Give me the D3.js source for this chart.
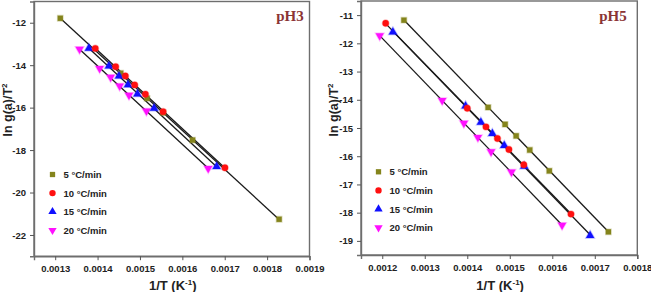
<!DOCTYPE html>
<html><head><meta charset="utf-8">
<script src="https://cdnjs.cloudflare.com/ajax/libs/d3/7.8.5/d3.min.js"></script>
<style>body{margin:0;background:#fff}svg{display:block}</style>
</head><body>
<script>
// ---- data ----
const seriesNames = ["5 °C/min", "10 °C/min", "15 °C/min", "20 °C/min"];
const seriesColors = ["#84841c", "#ff1010", "#1010ff", "#ff10ff"];

const ph3_5  = [[0.001312,-11.79],[0.0014545,-14.38],[0.0015167,-15.56],[0.0015546,-16.24],[0.0016241,-17.53],[0.0018283,-21.26]];
const ph3_10 = [[0.0013946,-13.21],[0.0014427,-14.07],[0.0014656,-14.51],[0.0014876,-14.93],[0.0015129,-15.37],[0.0015546,-16.19],[0.0017005,-18.83]];
const ph3_15 = [[0.0013795,-13.21],[0.0014268,-14.04],[0.0014505,-14.51],[0.0014718,-14.93],[0.001494,-15.36],[0.0015333,-16.03],[0.0016809,-18.78]];
const ph3_20 = [[0.0013575,-13.25],[0.0014048,-14.15],[0.0014308,-14.57],[0.0014521,-14.98],[0.0014741,-15.41],[0.0015153,-16.16],[0.001661,-18.86]];

const ph5_5  = [[0.001251,-11.18],[0.001449,-14.27],[0.001489,-14.87],[0.001515,-15.28],[0.001547,-15.78],[0.001593,-16.52],[0.001732,-18.68]];
const ph5_10 = [[0.001208,-11.29],[0.0014,-14.3],[0.001444,-14.96],[0.001471,-15.37],[0.001498,-15.76],[0.001533,-16.3],[0.001644,-18.05]];
const ph5_15 = [[0.001225,-11.6],[0.001396,-14.22],[0.001432,-14.8],[0.001459,-15.2],[0.001487,-15.62],[0.001534,-16.36],[0.001689,-18.81]];
const ph5_20 = [[0.001194,-11.73],[0.001341,-14.02],[0.001392,-14.83],[0.001425,-15.33],[0.001456,-15.84],[0.001504,-16.56],[0.001623,-18.44]];

const ph3XTicks = [0.0013,0.0014,0.0015,0.0016,0.0017,0.0018,0.0019];
const ph3YTicks = [-12,-14,-16,-18,-20,-22];
const ph5XTicks = [0.0012,0.0013,0.0014,0.0015,0.0016,0.0017,0.0018];
const ph5YTicks = [-11,-12,-13,-14,-15,-16,-17,-18,-19];

const ph3XDomain = [0.00125, 0.0019];
const ph3YDomain = [-23, -11];
const ph5XDomain = [0.00115, 0.0018];
const ph5YDomain = [-19.5, -10.5];

const panelTitles = ["pH3", "pH5"];

// ---- drawing ----
const W = 651, H = 292;
const svg = d3.select("body").append("svg").attr("width", W).attr("height", H);

const panels = [
  {title: panelTitles[0], series: [ph3_5, ph3_10, ph3_15, ph3_20], xd: ph3XDomain, yd: ph3YDomain,
   xt: ph3XTicks, yt: ph3YTicks, left: 34, right: 309.5, top: 1.5, bottom: 256.2,
   legX: 52.5, legY: 174.5, legDy: 18.6, ylabX: 12, titleX: 290},
  {title: panelTitles[1], series: [ph5_5, ph5_10, ph5_15, ph5_20], xd: ph5XDomain, yd: ph5YDomain,
   xt: ph5XTicks, yt: ph5YTicks, left: 361, right: 637.3, top: 1, bottom: 255,
   legX: 378.5, legY: 171.8, legDy: 18.6, ylabX: 338, titleX: 613}
];

const symbols = [d3.symbolSquare, d3.symbolCircle, d3.symbolTriangle, d3.symbolTriangle];
const symSizes = [28, 32, 30, 30];
const symRot = [0, 0, 0, 180];

function fit(pts) {
  const mx = d3.mean(pts, d => d[0]), my = d3.mean(pts, d => d[1]);
  let sxy = 0, sxx = 0;
  pts.forEach(d => { sxy += (d[0]-mx)*(d[1]-my); sxx += (d[0]-mx)*(d[0]-mx); });
  const b = sxy / sxx, a = my - b*mx;
  const x0 = d3.min(pts, d => d[0]), x1 = d3.max(pts, d => d[0]);
  return [[x0, a + b*x0], [x1, a + b*x1]];
}

panels.forEach(p => {
  const x = d3.scaleLinear().domain(p.xd).range([p.left, p.right]);
  const y = d3.scaleLinear().domain(p.yd).range([p.bottom, p.top]);
  const g = svg.append("g");

  g.append("rect").attr("x", p.left).attr("y", p.top)
    .attr("width", p.right - p.left).attr("height", p.bottom - p.top)
    .attr("fill", "none").attr("stroke", "#6e6e6e").attr("stroke-width", 1.4);

  const xa = g.append("g").attr("transform", `translate(0,${p.bottom})`)
    .call(d3.axisBottom(x).tickValues(p.xt).tickFormat(d3.format(".4f")).tickSize(4).tickPadding(5));
  const ya = g.append("g").attr("transform", `translate(${p.left},0)`)
    .call(d3.axisLeft(y).tickValues(p.yt).tickFormat(d => d3.format("d")(d).replace("−","-")).tickSize(4).tickPadding(4));
  [xa, ya].forEach(a => {
    a.select(".domain").attr("stroke", "#6e6e6e").attr("stroke-width", 1.4);
    a.selectAll(".tick line").attr("stroke", "#555").attr("stroke-width", 1);
    a.selectAll(".tick text").attr("fill", "#222").style("font-family", "Liberation Sans, Arial, sans-serif")
      .style("font-size", "9.5px").style("font-weight", "bold");
  });

  const xl = g.append("text").attr("x", (p.left + p.right)/2 + 1).attr("y", 289.5)
    .attr("text-anchor", "middle").attr("fill", "#222")
    .style("font-family", "Liberation Sans, Arial, sans-serif").style("font-size", "13px").style("font-weight", "bold");
  xl.append("tspan").text("1/T (K");
  xl.append("tspan").attr("dy", -5).style("font-size", "8px").text("-1");
  xl.append("tspan").attr("dy", 5).text(")");

  const yl = g.append("text").attr("transform", `translate(${p.ylabX},110) rotate(-90)`)
    .attr("text-anchor", "middle").attr("fill", "#222")
    .style("font-family", "Liberation Sans, Arial, sans-serif").style("font-size", "12.5px").style("font-weight", "bold");
  yl.append("tspan").text("ln g(a)/T");
  yl.append("tspan").attr("dy", -5).style("font-size", "8px").text("2");

  g.append("text").attr("x", p.titleX).attr("y", 21).attr("text-anchor", "middle")
    .attr("fill", "#8b3434").style("font-family", "Liberation Serif, Times New Roman, serif")
    .style("font-size", "15px").style("font-weight", "bold").text(p.title);

  p.series.forEach(s => {
    const f = fit(s);
    g.append("line").attr("x1", x(f[0][0])).attr("y1", y(f[0][1]))
      .attr("x2", x(f[1][0])).attr("y2", y(f[1][1]))
      .attr("stroke", "#1a1a1a").attr("stroke-width", 1.3);
  });

  [0, 3, 2, 1].forEach(i => {
    g.selectAll(null).data(p.series[i]).enter().append("path")
      .attr("d", d3.symbol().type(symbols[i]).size(symSizes[i]))
      .attr("transform", d => `translate(${x(d[0])},${y(d[1])}) rotate(${symRot[i]})`)
      .attr("fill", seriesColors[i]).attr("stroke", seriesColors[i]).attr("stroke-opacity", 0.3).attr("stroke-width", 1.5);
  });

  seriesNames.forEach((nm, i) => {
    const ly = p.legY + i * p.legDy;
    g.append("path").attr("d", d3.symbol().type(symbols[i]).size(symSizes[i]))
      .attr("transform", `translate(${p.legX},${ly}) rotate(${symRot[i]})`)
      .attr("fill", seriesColors[i]);
    g.append("text").attr("x", p.legX + 11).attr("y", ly + 3.5).attr("fill", "#222")
      .style("font-family", "Liberation Sans, Arial, sans-serif").style("font-size", "9.5px").style("font-weight", "bold")
      .text(nm);
  });
});
</script>
</body></html>
